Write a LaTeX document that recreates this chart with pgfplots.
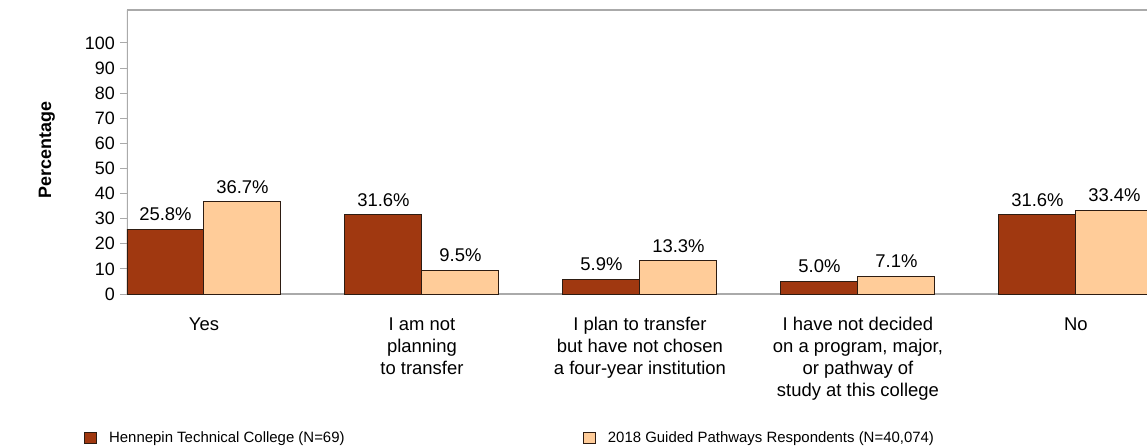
\documentclass[border=0pt]{standalone}
\usepackage{fontspec}
\setmainfont{Liberation Sans}
\usepackage{pgfplots}
\pgfplotsset{compat=1.18}
\definecolor{brownbar}{RGB}{160,56,16}
\definecolor{orangebar}{RGB}{255,204,153}
\definecolor{edgecol}{RGB}{45,28,18}
\definecolor{axisgray}{RGB}{170,170,170}
\begin{document}
\begin{tikzpicture}
\path[use as bounding box] (-127bp,-152bp) rectangle (1020bp,294bp);
\begin{axis}[
  at={(0,0)}, anchor=south west,
  scale only axis,
  width=1020bp, height=284bp,
  ybar=0pt, bar width=0.3532,
  xmin=-0.3532, xmax=4.326,
  ymin=0, ymax=113.1,
  axis line style={draw=none},
  ytick={0,10,...,100},
  xtick={0,1,2,3,4},
  xticklabels={Yes, {I am not\\planning\\to transfer}, {I plan to transfer\\but have not chosen\\a four-year institution}, {I have not decided\\on a program, major,\\or pathway of\\study at this college}, No},
  xtick style={draw=none},
  ytick style={draw=axisgray, line width=0.8pt},
  tick align=outside,
  ytick pos=left,
  major tick length=7bp,
  /pgf/number format/assume math mode=true,
  yticklabel style={font=\fontsize{18}{20}\selectfont, inner sep=1bp, xshift=-4bp},
  xticklabel style={font=\fontsize{18.5}{22}\selectfont, align=center, anchor=north, yshift=-13bp},
  ylabel={\textbf{Percentage}},
  ylabel style={font=\fontsize{18}{20}\selectfont, at={(axis description cs:-0.0785,0.507)}, anchor=center},
  clip=true,
  nodes near coords={\pgfmathprintnumber[fixed,fixed zerofill,precision=1]{\pgfplotspointmeta}\%},
  every node near coord/.append style={font=\fontsize{18.5}{20}\selectfont, yshift=4.5bp, text=black},
  legend style={draw=none, fill=none, inner sep=0pt, anchor=west, at={(-0.042,-0.507)}, font=\fontsize{15}{17}\selectfont, legend columns=2, column sep=0pt, /tikz/every odd column/.append style={column sep=10bp}},
  legend image code/.code={\draw[#1, draw=edgecol, line width=0.8pt] (0bp,-5.5bp) rectangle (12bp,5.5bp);},
]
\draw[axisgray, line width=1.2pt] (rel axis cs:0,1) -- (rel axis cs:1,1);
\draw[axisgray, line width=1.2pt] (rel axis cs:0,1) -- (rel axis cs:0,0) -- (rel axis cs:1,0);
\addplot[bar shift=-0.1766, fill=brownbar, draw=edgecol, line width=1pt] coordinates {(0,25.8) (1,31.6) (2,5.9) (3,5.0) (4,31.6)};
\addlegendentry{\makebox[472bp][l]{Hennepin Technical College (N=69)}}
\addplot[bar shift=0.1766, fill=orangebar, draw=edgecol, line width=1pt] coordinates {(0,36.7) (1,9.5) (2,13.3) (3,7.1) (4,33.4)};
\addlegendentry{2018 Guided Pathways Respondents (N=40,074)}
\end{axis}
\end{tikzpicture}
\end{document}
